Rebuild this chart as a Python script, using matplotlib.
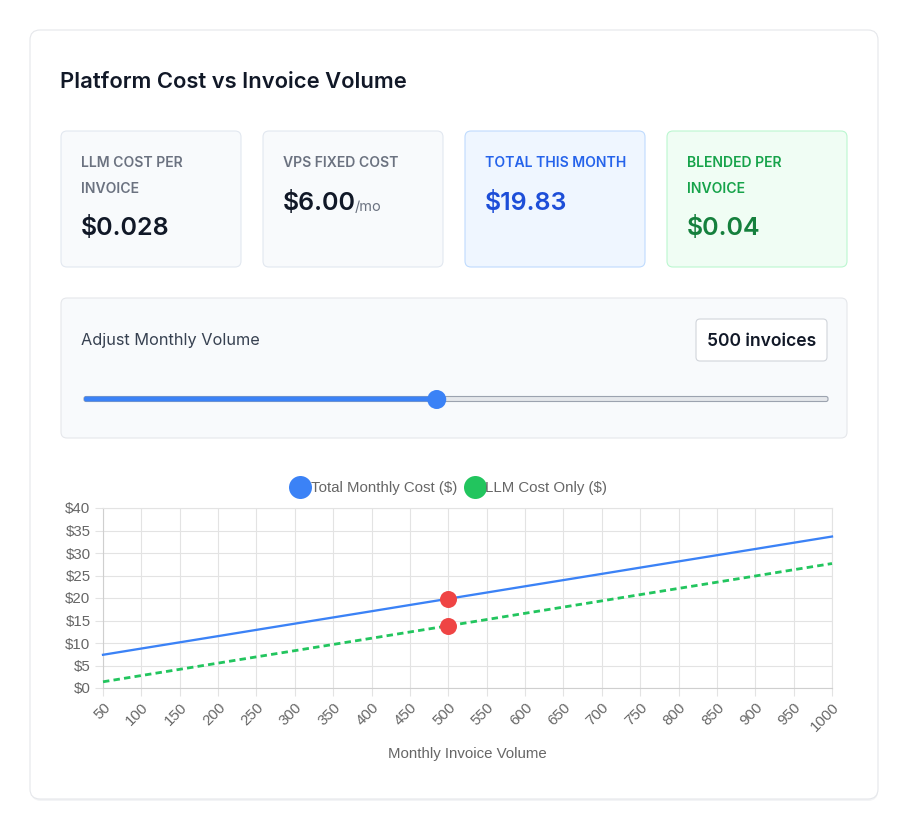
import matplotlib.pyplot as plt
from matplotlib.patches import FancyBboxPatch, Circle
from matplotlib.lines import Line2D

# chart data
volumes = [50, 100, 150, 200, 250, 300, 350, 400, 450, 500,
           550, 600, 650, 700, 750, 800, 850, 900, 950, 1000]
total_cost = [7.38, 8.77, 10.15, 11.53, 12.92, 14.30, 15.68, 17.06, 18.45, 19.83,
              21.21, 22.60, 23.98, 25.36, 26.75, 28.13, 29.51, 30.89, 32.28, 33.66]
llm_cost = [1.38, 2.77, 4.15, 5.53, 6.92, 8.30, 9.68, 11.06, 12.45, 13.83,
            15.21, 16.60, 17.98, 19.36, 20.75, 22.13, 23.51, 24.89, 26.28, 27.66]
current_volume = 500
y_ticks = [0, 5, 10, 15, 20, 25, 30, 35, 40]

cards = [
    ("LLM COST PER\nINVOICE", "$0.028", ""),
    ("VPS FIXED COST", "$6.00", "/mo"),
    ("TOTAL THIS MONTH", "$19.83", ""),
    ("BLENDED PER\nINVOICE", "$0.04", ""),
]

W, H = 899, 818
UI = "Inter"
CH = "Liberation Sans"


def px(v):
    return v * 0.72


fig = plt.figure(figsize=(W / 100, H / 100), dpi=100)
fig.patch.set_facecolor("white")

bg = fig.add_axes([0, 0, 1, 1])
bg.set_xlim(0, W)
bg.set_ylim(H, 0)
bg.axis("off")


def box(ax, x, y, w, h, fc, ec, r=6, lw=1.0, z=1):
    p = FancyBboxPatch((x, y), w, h, boxstyle="round,pad=0,rounding_size=%d" % r,
                       fc=fc, ec=ec, lw=lw, zorder=z)
    ax.add_patch(p)


# outer card with a faint shadow
box(bg, 31, 32, 847, 769, "#f3f4f6", "none", r=10, z=0)
box(bg, 30, 30, 848, 769, "white", "#e5e7eb", r=10, lw=0.8, z=1)

bg.text(60, 82, "Platform Cost vs Invoice Volume", family=UI, fontsize=px(22),
        fontweight="semibold", color="#111827", va="center", ha="left", zorder=3)

# stat cards
card_x = [61, 263, 465, 667]
card_fc = ["#f8fafc", "#f8fafc", "#eff6ff", "#f0fdf4"]
card_ec = ["#e2e8f0", "#e2e8f0", "#bfdbfe", "#bbf7d0"]
label_c = ["#6b7280", "#6b7280", "#2563eb", "#16a34a"]
value_c = ["#111827", "#111827", "#1d4ed8", "#15803d"]
for i, (lab, val, suf) in enumerate(cards):
    x0 = card_x[i]
    box(bg, x0, 131, 180, 136, card_fc[i], card_ec[i], r=6, lw=0.8, z=2)
    lines = lab.split("\n")
    for j, ln in enumerate(lines):
        bg.text(x0 + 20, 163 + 26 * j, ln, family=UI, fontsize=px(14),
                fontweight="semibold", color=label_c[i], va="center", zorder=3)
    vy = 203 if len(lines) == 1 else 228
    t = bg.text(x0 + 20, vy, val, family=UI, fontsize=px(25), fontweight="semibold",
                color=value_c[i], va="center", zorder=3)
    if suf:
        fig.canvas.draw()
        bb = t.get_window_extent()
        bg.text(bb.x1 - 1, vy + 4, suf, family=UI, fontsize=px(14.5),
                color="#6b7280", va="center", zorder=3)

# slider panel
box(bg, 61, 298, 786, 140, "#f8fafc", "#e5e7eb", r=6, lw=0.8, z=2)
bg.text(81, 341, "Adjust Monthly Volume", family=UI, fontsize=px(16.3),
        color="#374151", va="center", zorder=3)
box(bg, 696, 319, 131, 42, "white", "#d1d5db", r=4, lw=0.8, z=3)
bg.text(761.5, 342, "%d invoices" % current_volume, family=UI, fontsize=px(17.5),
        fontweight="semibold", color="#111827", va="center", ha="center", zorder=4)

s0, s1 = 84, 828
frac = (current_volume - volumes[0]) / (volumes[-1] - volumes[0])
knob = s0 + 6 + frac * (s1 - s0 - 12)
box(bg, s0, 396.5, s1 - s0, 5, "#e5e7eb", "#9ca3af", r=2.5, lw=0.8, z=3)
box(bg, s0, 396.5, knob - s0, 5, "#3b82f6", "none", r=2.5, z=4)
bg.add_patch(Circle((knob, 399.5), 9.5, fc="#3b82f6", ec="none", zorder=5))

# line chart
left, right, top, bottom = 103, 832, 508, 688
ax = fig.add_axes([left / W, 1 - bottom / H, (right - left) / W, (bottom - top) / H])
ax.set_facecolor("none")
xs = list(range(len(volumes)))
ax.plot(xs, total_cost, color="#3b82f6", lw=px(2.3), zorder=3, clip_on=False)
ax.plot(xs, llm_cost, color="#22c55e", lw=px(2.8), ls=(0, (2.3, 1.5)), zorder=3,
        clip_on=False)
ci = volumes.index(current_volume)
ax.scatter([ci, ci], [total_cost[ci], llm_cost[ci]], s=(px(17)) ** 2, color="#ef4444",
           zorder=4, clip_on=False, linewidths=0)

ax.set_xlim(0, len(volumes) - 1)
ax.set_ylim(y_ticks[0], y_ticks[-1])
ax.set_xticks(xs)
ax.set_xticklabels([str(v) for v in volumes], rotation=45, ha="right",
                   rotation_mode="anchor", family=CH, fontsize=px(15), color="#666666")
ax.set_yticks(y_ticks)
ax.set_yticklabels(["$%d" % v for v in y_ticks], family=CH, fontsize=px(15),
                   color="#666666")
ax.tick_params(axis="both", length=6, color="#e3e3e3", width=0.8)
ax.tick_params(axis="x", pad=3)
ax.tick_params(axis="y", pad=3)
ax.grid(True, color="#e3e3e3", lw=0.8)
ax.set_axisbelow(True)
for side in ["top", "right"]:
    ax.spines[side].set_color("#e3e3e3")
    ax.spines[side].set_linewidth(0.8)
for side in ["left", "bottom"]:
    ax.spines[side].set_color("#cfcfcf")
    ax.spines[side].set_linewidth(0.8)
ax.set_xlabel("Monthly Invoice Volume", family=CH, fontsize=px(15), color="#666666",
              labelpad=9)

handles = [
    Line2D([], [], ls="none", marker="o", ms=px(23), mfc="#3b82f6", mec="none"),
    Line2D([], [], ls="none", marker="o", ms=px(23), mfc="#22c55e", mec="none"),
]
fig.legend(handles, ["Total Monthly Cost ($)", "LLM Cost Only ($)"], loc="center",
           bbox_to_anchor=(450 / W, 1 - 488 / H), ncol=2, frameon=False,
           prop={"family": CH, "size": px(15)}, labelcolor="#666666",
           handlelength=1.0, handletextpad=0.2, columnspacing=0.7)

fig.savefig("out.png", dpi=100, facecolor="white")
